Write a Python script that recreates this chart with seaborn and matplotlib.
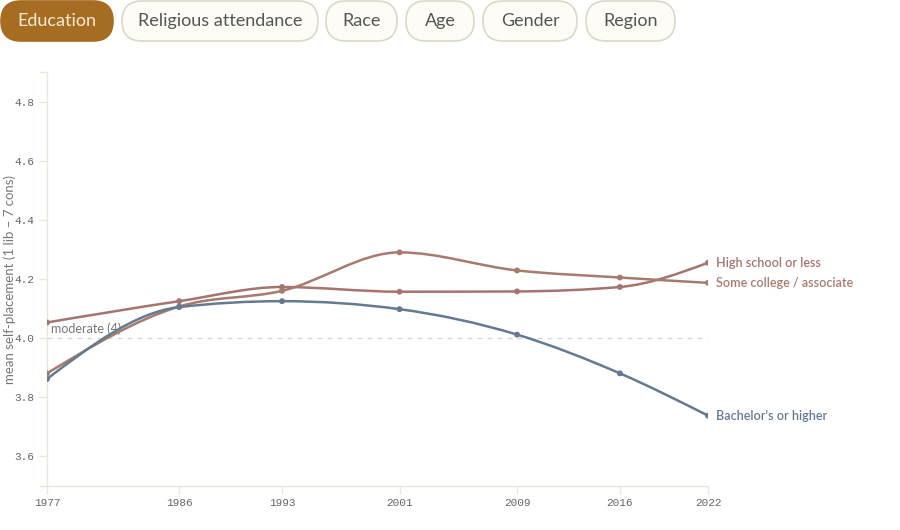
import numpy as np
import pandas as pd
import matplotlib
matplotlib.use('Agg')
import matplotlib.pyplot as plt
import seaborn as sns
from matplotlib.path import Path
from matplotlib.patches import PathPatch, FancyBboxPatch

# data
years = [1977, 1986, 1993, 2001, 2009, 2016, 2022]
high_school = [4.053, 4.125, 4.173, 4.157, 4.158, 4.173, 4.255]
some_college = [3.881, 4.107, 4.160, 4.290, 4.229, 4.205, 4.187]
bachelors = [3.862, 4.105, 4.125, 4.098, 4.012, 3.881, 3.738]
groups = ["High school or less", "Some college / associate", "Bachelor's or higher"]
tabs = ["Education", "Religious attendance", "Race", "Age", "Gender", "Region"]
y_ticks = [3.6, 3.8, 4.0, 4.2, 4.4, 4.6, 4.8]

colors = {"High school or less": "#a5746f",
          "Some college / associate": "#a77a6c",
          "Bachelor's or higher": "#637a91"}

df = pd.DataFrame({
    "year": years * 3,
    "value": high_school + some_college + bachelors,
    "group": [g for g in groups for _ in years],
})

sns.set_theme(style="white")
plt.rcParams['font.family'] = ['Lato', 'DejaVu Sans']

fig = plt.figure(figsize=(9, 5.3), dpi=100)
W, H = 900, 530
ax = fig.add_axes([47 / W, 1 - 486 / H, (708 - 47) / W, (486 - 72) / H])


def monotone_path(x, y):
    # d3 curveMonotoneX style bezier
    x = np.asarray(x, float)
    y = np.asarray(y, float)
    n = len(x)
    h = np.diff(x)
    s = np.diff(y) / h
    t = np.zeros(n)
    for i in range(1, n - 1):
        p = (s[i - 1] * h[i] + s[i] * h[i - 1]) / (h[i - 1] + h[i])
        t[i] = (np.sign(s[i - 1]) + np.sign(s[i])) * min(abs(s[i - 1]), abs(s[i]), 0.5 * abs(p))
    t[0] = (3 * s[0] - t[1]) / 2
    t[-1] = (3 * s[-1] - t[-2]) / 2
    verts = [(x[0], y[0])]
    codes = [Path.MOVETO]
    for i in range(n - 1):
        dx = h[i] / 3
        verts += [(x[i] + dx, y[i] + dx * t[i]), (x[i + 1] - dx, y[i + 1] - dx * t[i + 1]), (x[i + 1], y[i + 1])]
        codes += [Path.CURVE4] * 3
    return Path(verts, codes)


# reference line at moderate
ax.axhline(4.0, color="#d6d6d6", lw=0.9, ls=(0, (4, 4)), zorder=1)
ax.text(1977.3, 4.0 + 0.01, "moderate (4)", color="#777777", fontsize=9, va="bottom", ha="left")

for g in groups:
    sub = df[df["group"] == g]
    ax.add_patch(PathPatch(monotone_path(sub["year"], sub["value"]), fill=False,
                           edgecolor=colors[g], lw=1.8, zorder=3, capstyle="round"))
    ax.annotate(g, (sub["year"].iloc[-1], sub["value"].iloc[-1]), xytext=(5.8, 0),
                textcoords="offset points", va="center", ha="left",
                color=colors[g], fontsize=9, fontweight="semibold")

sns.scatterplot(data=df, x="year", y="value", hue="group", palette=colors,
                s=18, linewidth=0, legend=False, ax=ax, zorder=4)

ax.set_xlim(1977, 2022)
ax.set_ylim(3.5, 4.9)
ax.set_xticks(years)
ax.set_xticklabels([str(y) for y in years])
ax.set_yticks(y_ticks)
ax.set_yticklabels([f"{v:.1f}" for v in y_ticks])
ax.set_yticks([3.5, 4.9], minor=True)

axis_col = "#e9e6d8"
for side in ["top", "right"]:
    ax.spines[side].set_visible(False)
for side in ["left", "bottom"]:
    ax.spines[side].set_color(axis_col)
    ax.spines[side].set_linewidth(1.0)
ax.tick_params(axis="both", which="both", length=6, width=1.0, color=axis_col,
               labelcolor="#666666", labelsize=8, pad=3)
ax.tick_params(axis="y", which="both", left=True)
ax.tick_params(axis="x", which="both", bottom=True)
for lab in ax.get_xticklabels() + ax.get_yticklabels():
    lab.set_fontfamily("Liberation Mono")

ax.set_xlabel("")
ax.set_ylabel("mean self-placement (1 lib \u2013 7 cons)", color="#777777", fontsize=9.5,
              va="center")
ax.yaxis.set_label_coords(-37 / 661, 0.5)

# tab buttons across the top
top = fig.add_axes([0, 0, 1, 1], zorder=5)
top.set_xlim(0, W)
top.set_ylim(H, 0)
top.axis("off")
top.patch.set_alpha(0)
tab_x = [(1, 113), (122, 318), (326, 397), (406, 474), (483, 577), (586, 675)]
for name, (x0, x1) in zip(tabs, tab_x):
    active = name == "Education"
    box = FancyBboxPatch((x0, 1), x1 - x0, 40, boxstyle="round,pad=0,rounding_size=20",
                         facecolor="#a66d22" if active else "#fdfcf7",
                         edgecolor="#a66d22" if active else "#dcd8c6", lw=1.2)
    top.add_patch(box)
    top.text((x0 + x1) / 2, 21, name, ha="center", va="center", fontsize=13,
             color="#f5ead6" if active else "#555555")

fig.savefig("out.png", dpi=100)
